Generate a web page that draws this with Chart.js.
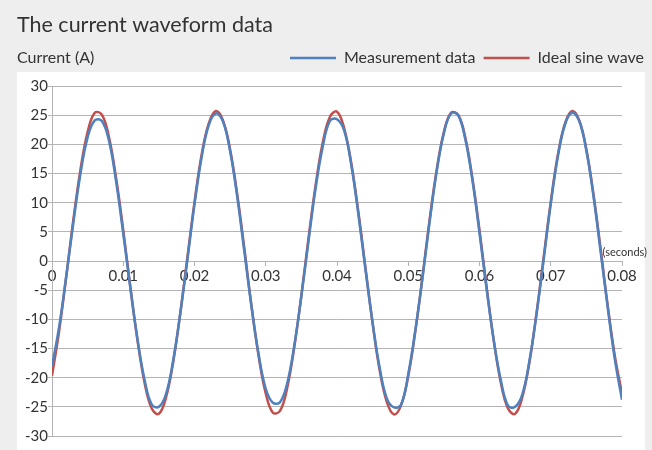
<!DOCTYPE html>
<html>
<head>
<meta charset="utf-8">
<title>The current waveform data</title>
<script src="https://cdn.jsdelivr.net/npm/chart.js@4.4.1/dist/chart.umd.min.js"></script>
<style>
  html, body { margin: 0; padding: 0; background: #eeeeee; }
  #wrap { width: 652px; height: 450px; }
</style>
</head>
<body>
<div id="wrap"><canvas id="waveChart" width="652" height="450"></canvas></div>
<script>
// sample times in seconds (1 ms apart)
const times = [
  0, 0.001, 0.002, 0.003, 0.004, 0.005, 0.006, 0.007, 0.008, 0.009,
  0.010, 0.011, 0.012, 0.013, 0.014, 0.015, 0.016, 0.017, 0.018, 0.019,
  0.020, 0.021, 0.022, 0.023, 0.024, 0.025, 0.026, 0.027, 0.028, 0.029,
  0.030, 0.031, 0.032, 0.033, 0.034, 0.035, 0.036, 0.037, 0.038, 0.039,
  0.040, 0.041, 0.042, 0.043, 0.044, 0.045, 0.046, 0.047, 0.048, 0.049,
  0.050, 0.051, 0.052, 0.053, 0.054, 0.055, 0.056, 0.057, 0.058, 0.059,
  0.060, 0.061, 0.062, 0.063, 0.064, 0.065, 0.066, 0.067, 0.068, 0.069,
  0.070, 0.071, 0.072, 0.073, 0.074, 0.075, 0.076, 0.077, 0.078, 0.079,
  0.080
]

// current in amps
const measured = [
  -18.0, -11.3, -2.6, 6.6, 15.0, 21.2, 24.1, 24.0, 20.6, 13.6,
  4.7, -4.6, -13.4, -20.4, -24.6, -25.0, -22.8, -17.1, -9.0, 0.2,
  9.7, 17.8, 23.3, 25.3, 23.9, 18.8, 11.0, 1.6, -7.8, -16.0,
  -21.9, -24.3, -24.2, -21.0, -14.5, -6.0, 3.4, 12.5, 19.6, 24.0,
  24.3, 22.4, 16.5, 8.0, -1.5, -10.6, -18.4, -23.6, -25.1, -24.6,
  -19.4, -11.8, -2.9, 6.7, 15.4, 21.9, 25.3, 25.0, 20.9, 13.9,
  4.8, -4.8, -13.6, -20.5, -24.8, -25.0, -22.9, -17.2, -9.1, 0.2,
  9.8, 17.9, 23.4, 25.4, 24.0, 18.9, 11.1, 1.6, -8.0, -16.9,
  -23.8
]

const ideal = [
  -19.7, -12.0, -2.7, 7.1, 15.7, 22.1, 25.4, 25.1, 21.2, 14.2,
  5.3, -4.5, -13.6, -20.9, -25.3, -26.2, -23.4, -17.4, -9.0, 0.6,
  10.1, 18.2, 23.6, 25.7, 24.1, 19.1, 11.4, 2.1, -7.7, -16.3,
  -22.7, -26.0, -25.7, -21.8, -14.8, -5.9, 3.9, 13.0, 20.3, 24.7,
  25.6, 22.8, 16.8, 8.4, -1.2, -10.7, -18.8, -24.2, -26.3, -24.7,
  -19.7, -12.0, -2.7, 7.1, 15.7, 22.1, 25.4, 25.1, 21.2, 14.2,
  5.3, -4.5, -13.6, -20.9, -25.3, -26.2, -23.4, -17.4, -9.0, 0.6,
  10.1, 18.2, 23.6, 25.7, 24.1, 19.1, 11.4, 2.1, -7.7, -16.3,
  -22.7
]

const seriesNames = ['Measurement data', 'Ideal sine wave']
const chartTitle = 'The current waveform data'
const yTitle = 'Current (A)'
const xTitle = '(seconds)'

const fontFamily = 'Lato, "Open Sans", sans-serif'
const textColor = '#333333'
const gridColor = '#b4b4b4'

Chart.defaults.font.family = fontFamily
Chart.defaults.color = textColor

// white plot panel + the two loose axis captions
const panel = {
  id: 'panel',
  beforeDraw(chart) {
    const { ctx, chartArea } = chart
    ctx.save()
    ctx.fillStyle = '#ffffff'
    ctx.fillRect(chartArea.left - 35, chartArea.top - 14, chartArea.right - chartArea.left + 58, chart.height)
    ctx.restore()
  },
  afterDraw(chart) {
    const { ctx, chartArea, scales } = chart
    ctx.save()
    ctx.fillStyle = textColor
    ctx.textBaseline = 'middle'
    ctx.font = '16px ' + fontFamily
    ctx.fillText(yTitle, 17, 58)
    ctx.textAlign = 'right'
    ctx.font = '11px ' + fontFamily
    ctx.fillText(xTitle, chartArea.right + 25, scales.y.getPixelForValue(0) - 9)
    ctx.restore()
  }
}

const ctx = document.getElementById('waveChart').getContext('2d')

const waveChart = new Chart(ctx, {
  type: 'line',
  data: {
    datasets: [{
      label: seriesNames[0],
      data: times.map((t, i) => ({ x: t, y: measured[i] })),
      borderColor: '#4f81bd',
      backgroundColor: '#4f81bd',
      borderWidth: 2.5,
      pointRadius: 0,
      tension: 0.4
    }, {
      label: seriesNames[1],
      data: times.map((t, i) => ({ x: t, y: ideal[i] })),
      borderColor: '#c0504d',
      backgroundColor: '#c0504d',
      borderWidth: 2.5,
      pointRadius: 0,
      tension: 0.4
    }]
  },
  options: {
    responsive: false,
    animation: false,
    layout: { padding: { left: 17, right: 0, top: 0, bottom: 14 } },
    plugins: {
      title: {
        display: true,
        text: chartTitle,
        align: 'start',
        color: textColor,
        font: { size: 21.5, weight: 'normal' },
        padding: { top: 11.9, bottom: 4.3 }
      },
      // empty spacer between legend row and plot
      subtitle: {
        display: true,
        text: '',
        weight: 500,
        padding: 0,
        font: { size: 10, lineHeight: 1 }
      },
      legend: {
        position: 'top',
        align: 'end',
        labels: {
          usePointStyle: true,
          pointStyle: 'line',
          pointStyleWidth: 46,
          padding: 8,
          color: textColor,
          font: { size: 16 }
        }
      },
      tooltip: { enabled: false }
    },
    scales: {
      x: {
        type: 'linear',
        min: 0,
        max: 0.08,
        position: { y: 0 },
        ticks: { stepSize: 0.01, font: { size: 15 }, color: textColor, padding: 2, maxRotation: 0, autoSkip: false },
        grid: { drawOnChartArea: false, color: gridColor, tickLength: 4 },
        border: { color: gridColor },
        afterFit(s) { s.height = 0 }
      },
      y: {
        min: -30,
        max: 30,
        ticks: { stepSize: 5, font: { size: 15 }, color: textColor, padding: 0 },
        grid: { color: gridColor, tickLength: 4 },
        border: { color: gridColor },
        afterFit(s) { s.width = 35 }
      },
      // keeps room on the right for the "(seconds)" caption
      y2: {
        position: 'right',
        ticks: { display: false },
        grid: { display: false },
        border: { display: false },
        afterFit(s) { s.width = 30 }
      }
    }
  },
  plugins: [panel]
})
</script>
</body>
</html>
